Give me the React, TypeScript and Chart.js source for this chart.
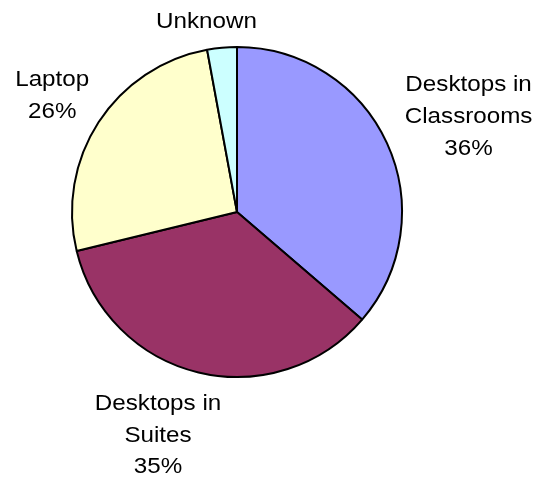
import React, { useEffect, useRef } from "react";
import { Chart, registerables } from "chart.js";

Chart.register(...registerables);

// ---- data ----
const categories = ["Desktops in\nClassrooms", "Desktops in\nSuites", "Laptop", "Unknown"];
const shares = [36.3, 34.9, 25.9, 2.9];
const showPercent = [true, true, true, false];
const sliceColors = ["#9999FF", "#993366", "#FFFFCC", "#CCFFFF"];

// ---- label layout (relative to each slice: angle nudge in degrees, distance in radii) ----
const labelAngleNudge = [2.0, 6.1, -0.5, -3.8];
const labelDistance = [1.521, 1.427, 1.327, 1.179];

const FONT_SIZE = 22;
const X_STRETCH = 1.1;
const LINE_HEIGHT = 31.8;
const CAP_HEIGHT = 15.5;

const labelPlugin = {
  id: "outsideLabels",
  afterDatasetsDraw(chart: any) {
    const ctx = chart.ctx as CanvasRenderingContext2D;
    const meta = chart.getDatasetMeta(0);
    const data = chart.data.datasets[0].data as number[];
    const total = data.reduce((a, b) => a + b, 0);
    ctx.save();
    ctx.font = `${FONT_SIZE}px "Liberation Sans", Arial, sans-serif`;
    ctx.fillStyle = "#000";
    ctx.textAlign = "center";
    ctx.textBaseline = "alphabetic";
    meta.data.forEach((arc: any, i: number) => {
      const p = arc.getProps(["x", "y", "startAngle", "endAngle", "outerRadius"], true);
      const mid = (p.startAngle + p.endAngle) / 2 + (labelAngleNudge[i] * Math.PI) / 180;
      const d = labelDistance[i] * p.outerRadius;
      const cx = p.x + Math.cos(mid) * d;
      const cy = p.y + Math.sin(mid) * d;
      const lines = categories[i].split("\n");
      if (showPercent[i]) lines.push(`${Math.round((data[i] / total) * 100)}%`);
      const n = lines.length;
      lines.forEach((line, j) => {
        const baseline = cy + (j - (n - 1) / 2) * LINE_HEIGHT + CAP_HEIGHT / 2;
        ctx.save();
        ctx.translate(cx, baseline);
        ctx.scale(X_STRETCH, 1);
        ctx.fillText(line, 0, 0);
        ctx.restore();
      });
    });
    ctx.restore();
  },
};

export default function App() {
  const canvasRef = useRef<HTMLCanvasElement | null>(null);

  useEffect(() => {
    document.body.style.margin = "0";
    const canvas = canvasRef.current;
    if (!canvas) return;
    const chart = new Chart(canvas, {
      type: "pie",
      data: {
        labels: categories.map((c) => c.replace("\n", " ")),
        datasets: [
          {
            data: shares,
            backgroundColor: sliceColors,
            borderColor: "#000000",
            borderWidth: 2,
          },
        ],
      },
      options: {
        responsive: false,
        animation: false,
        radius: 165,
        layout: { padding: { left: 0, right: 60, top: 0, bottom: 55 } },
        plugins: {
          legend: { display: false },
          tooltip: { enabled: false },
        },
      } as any,
      plugins: [labelPlugin],
    });
    return () => chart.destroy();
  }, []);

  return (
    <div style={{ width: 534, height: 479, background: "#fff" }}>
      <canvas ref={canvasRef} width={534} height={479} style={{ display: "block" }} />
    </div>
  );
}
